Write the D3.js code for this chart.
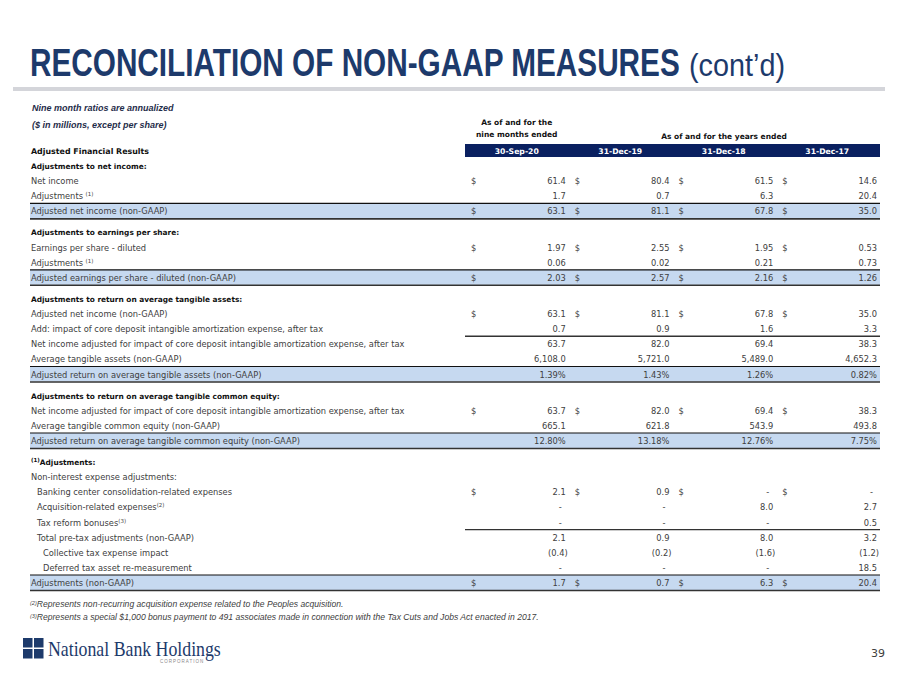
<!DOCTYPE html>
<html><head><meta charset="utf-8">
<script src="https://cdn.jsdelivr.net/npm/d3@7"></script>
<style>
html,body{margin:0;padding:0;background:#fff;}
svg{display:block;}
</style></head>
<body>
<script>
// ---------- DATA ----------
const titleMain = "RECONCILIATION OF NON-GAAP MEASURES";
const titleSuffix = "(cont\u2019d)";
const noteLines = ["Nine month ratios are annualized", "($ in millions, except per share)"];
const tableTitle = "Adjusted Financial Results";
const columns = ["30-Sep-20", "31-Dec-19", "31-Dec-18", "31-Dec-17"];
const groupNine = ["As of and for the", "nine months ended"];
const groupYears = "As of and for the years ended";

// label, superscript marker
const rowLabels = [
  ["Adjustments to net  income:", ""],
  ["Net income", ""],
  ["Adjustments ", "(1)"],
  ["Adjusted net income (non-GAAP)", ""],
  ["Adjustments to earnings per share:", ""],
  ["Earnings per share - diluted", ""],
  ["Adjustments ", "(1)"],
  ["Adjusted earnings per share - diluted (non-GAAP)", ""],
  ["Adjustments to return on average tangible assets:", ""],
  ["Adjusted net income (non-GAAP)", ""],
  ["Add: impact of core deposit intangible amortization expense, after tax", ""],
  ["Net income adjusted for impact of core deposit intangible amortization expense, after tax", ""],
  ["Average tangible assets (non-GAAP)", ""],
  ["Adjusted return on average tangible assets (non-GAAP)", ""],
  ["Adjustments to return on average tangible common equity:", ""],
  ["Net income adjusted for impact of core deposit intangible amortization expense, after tax", ""],
  ["Average tangible common equity (non-GAAP)", ""],
  ["Adjusted return on average tangible common equity (non-GAAP)", ""],
  ["Adjustments:", "(1)pre"],
  ["Non-interest expense adjustments:", ""],
  ["Banking center consolidation-related expenses", ""],
  ["Acquisition-related expenses", "(2)"],
  ["Tax reform bonuses", "(3)"],
  ["Total pre-tax adjustments (non-GAAP)", ""],
  ["Collective tax expense impact", ""],
  ["Deferred tax asset re-measurement", ""],
  ["Adjustments (non-GAAP)", ""]
];
// head = section heading, item = line, sub / subsub = indented line, total = highlighted result
const rowKinds = ["head","item","item","total","head","item","item","total",
  "head","item","item","item","item","total","head","item","item","total",
  "head","item","sub","sub","sub","sub","subsub","subsub","total"];
const dollarRows = [1,3,5,7,9,15,20,26];
const subtotalRows = [11,23];

const values30Sep20 = [null,"61.4","1.7","63.1",null,"1.97","0.06","2.03",null,"63.1","0.7","63.7","6,108.0","1.39%",null,"63.7","665.1","12.80%",null,null,"2.1","-","-","2.1","(0.4)","-","1.7"];
const values31Dec19 = [null,"80.4","0.7","81.1",null,"2.55","0.02","2.57",null,"81.1","0.9","82.0","5,721.0","1.43%",null,"82.0","621.8","13.18%",null,null,"0.9","-","-","0.9","(0.2)","-","0.7"];
const values31Dec18 = [null,"61.5","6.3","67.8",null,"1.95","0.21","2.16",null,"67.8","1.6","69.4","5,489.0","1.26%",null,"69.4","543.9","12.76%",null,null,"-","8.0","-","8.0","(1.6)","-","6.3"];
const values31Dec17 = [null,"14.6","20.4","35.0",null,"0.53","0.73","1.26",null,"35.0","3.3","38.3","4,652.3","0.82%",null,"38.3","493.8","7.75%",null,null,"-","2.7","0.5","3.2","(1.2)","18.5","20.4"];
const valueColumns = [values30Sep20, values31Dec19, values31Dec18, values31Dec17];

const footnotes = [
  ["(2)", "Represents non-recurring acquisition expense related to the Peoples acquisition."],
  ["(3)", "Represents a special $1,000 bonus payment to 491 associates made in connection with the Tax Cuts and Jobs Act enacted in 2017."]
];
const logoName = "National Bank Holdings";
const logoSub = "CORPORATION";
const pageNumber = "39";

// ---------- DRAW ----------
const W = 900, H = 675;
const navy = "#1d3a6b", barNavy = "#0a2060", band = "#c6d9f0", txt = "#404040";
const bodyFont = "'DejaVu Sans', sans-serif";
const narrow = "'Liberation Sans Narrow', 'Liberation Sans', sans-serif";
const bodySize = 8.3;

const svg = d3.select("body").append("svg").attr("width", W).attr("height", H);

// fit text horizontally to a target width via a transform
function fitText(sel, x0, y0, target) {
  const len = sel.node().getComputedTextLength();
  const sx = target / len;
  sel.attr("x", 0).attr("y", 0).attr("transform", `translate(${x0},${y0}) scale(${sx},1)`);
}

// Title
const tMain = svg.append("text")
  .attr("font-family", narrow).attr("font-weight", "bold").attr("font-size", 38)
  .attr("fill", navy).text(titleMain);
fitText(tMain, 30, 76, 650);
const tSuf = svg.append("text")
  .attr("font-family", narrow).attr("font-size", 31)
  .attr("fill", navy).text(titleSuffix);
fitText(tSuf, 689, 76, 96);
svg.append("rect").attr("x", 13).attr("y", 87).attr("width", 872).attr("height", 4).attr("fill", "#d4d5da");

// Notes
noteLines.forEach((t, i) => {
  svg.append("text").attr("x", 32).attr("y", 111 + i * 17)
    .attr("font-family", narrow).attr("font-style", "italic").attr("font-weight", "bold")
    .attr("font-size", 9).attr("fill", "#1f2d4a").text(t);
});

// Column scales
const x = d3.scaleBand().domain(columns).range([467, 882]);
const bw = x.bandwidth();
const xh = d3.scaleBand().domain(columns).range([465, 879]);

// Header
svg.append("rect").attr("x", 465).attr("y", 144).attr("width", 415).attr("height", 13).attr("fill", barNavy);
svg.selectAll("text.colh").data(columns).join("text").attr("class", "colh")
  .attr("x", d => xh(d) + xh.bandwidth() / 2).attr("y", 153.5).attr("text-anchor", "middle")
  .attr("font-family", bodyFont).attr("font-weight", "bold").attr("font-size", 7.7).attr("fill", "#fff")
  .text(d => d);
groupNine.forEach((t, i) => {
  svg.append("text").attr("x", xh(columns[0]) + xh.bandwidth() / 2).attr("y", 125 + i * 12).attr("text-anchor", "middle")
    .attr("font-family", bodyFont).attr("font-weight", "bold").attr("font-size", 7.5).attr("fill", "#111").text(t);
});
svg.append("text").attr("x", 724).attr("y", 139).attr("text-anchor", "middle")
  .attr("font-family", bodyFont).attr("font-weight", "bold").attr("font-size", 7.5).attr("fill", "#111").text(groupYears);
svg.append("text").attr("x", 31).attr("y", 154)
  .attr("font-family", bodyFont).attr("font-weight", "bold").attr("font-size", 7.9).attr("fill", "#111").text(tableTitle);

// Row positions
const totals = rowKinds.map((k, i) => k === "total" ? i : -1).filter(i => i >= 0);
const pos = rowKinds.map((k, i) => i + 0.4 * totals.filter(t => t < i).length);
const y = d3.scaleLinear().domain([0, pos[pos.length - 1]]).range([166, 583]);

const left = 30, right = 880;
// highlight bands
rowKinds.forEach((k, i) => {
  if (k !== "total") return;
  const cy = y(pos[i]);
  svg.append("rect").attr("x", left).attr("y", cy - 8).attr("width", right - left).attr("height", 15).attr("fill", band);
  svg.append("line").attr("x1", left).attr("x2", right).attr("y1", cy - 8).attr("y2", cy - 8).attr("stroke", "#111").attr("stroke-width", 1.2);
  svg.append("line").attr("x1", left).attr("x2", right).attr("y1", cy + 7.5).attr("y2", cy + 7.5).attr("stroke", "#333").attr("stroke-width", 1.6);
});
subtotalRows.forEach(i => {
  const cy = y(pos[i]);
  svg.append("line").attr("x1", 465).attr("x2", right).attr("y1", cy - 8).attr("y2", cy - 8).attr("stroke", "#333").attr("stroke-width", 1.4);
});

// labels
const indent = {head: 0, item: 0, total: 0, sub: 6, subsub: 12};
rowLabels.forEach((lab, i) => {
  const k = rowKinds[i];
  const cy = y(pos[i]);
  const t = svg.append("text").attr("x", 31 + indent[k]).attr("y", cy + 3)
    .attr("font-family", bodyFont).attr("font-size", k === "head" ? 7.4 : bodySize)
    .attr("font-weight", k === "head" ? "bold" : "normal")
    .attr("fill", k === "head" ? "#111" : txt);
  const sup = lab[1];
  if (sup === "(1)pre") {
    t.append("tspan").attr("font-size", 5.5).attr("dy", -3).text("(1)");
    t.append("tspan").attr("dy", 3).text(lab[0]);
  } else {
    t.append("tspan").text(lab[0]);
    if (sup) t.append("tspan").attr("font-size", 5.5).attr("dy", -3).text(sup);
  }
});

// values
valueColumns.forEach((vals, c) => {
  const x0 = x(columns[c]);
  vals.forEach((v, i) => {
    if (v == null) return;
    const cy = y(pos[i]);
    if (dollarRows.includes(i)) {
      svg.append("text").attr("x", x0 + 4).attr("y", cy + 3)
        .attr("font-family", bodyFont).attr("font-size", bodySize).attr("fill", txt).text("$");
    }
    let dx = 0;
    if (v === "-") dx = -4;
    else if (v.endsWith(")")) dx = 2;
    svg.append("text").attr("x", x0 + bw - 5 + dx).attr("y", cy + 3).attr("text-anchor", "end")
      .attr("font-family", bodyFont).attr("font-size", bodySize).attr("fill", txt).text(v);
  });
});

// footnotes
footnotes.forEach((f, i) => {
  const t = svg.append("text").attr("x", 30).attr("y", 607 + i * 13)
    .attr("font-family", "'Liberation Sans', Arial, sans-serif").attr("font-style", "italic")
    .attr("font-size", 8.6).attr("fill", txt);
  t.append("tspan").attr("font-size", 5.5).attr("dy", -2.5).text(f[0]);
  t.append("tspan").attr("dy", 2.5).text(f[1]);
});

// logo
const sq = 9.5, gap = 1.5, lx = 23, ly = 638;
[[0,0],[1,0],[0,1],[1,1]].forEach(([c, r]) => {
  svg.append("rect").attr("x", lx + c * (sq + gap)).attr("y", ly + r * (sq + gap)).attr("width", sq).attr("height", sq).attr("fill", "#1d3a6b");
});
const tLogo = svg.append("text").attr("font-family", "'Liberation Serif', serif")
  .attr("font-size", 20).attr("fill", "#1d3a6b").text(logoName);
fitText(tLogo, 48, 656, 173);
svg.append("text").attr("x", 160).attr("y", 663).attr("font-family", "'Liberation Sans', sans-serif")
  .attr("font-size", 4.5).attr("letter-spacing", 1).attr("fill", "#888").text(logoSub);

// page number
svg.append("text").attr("x", 885).attr("y", 657).attr("text-anchor", "end")
  .attr("font-family", bodyFont).attr("font-size", 11).attr("fill", txt).text(pageNumber);
</script>
</body></html>
